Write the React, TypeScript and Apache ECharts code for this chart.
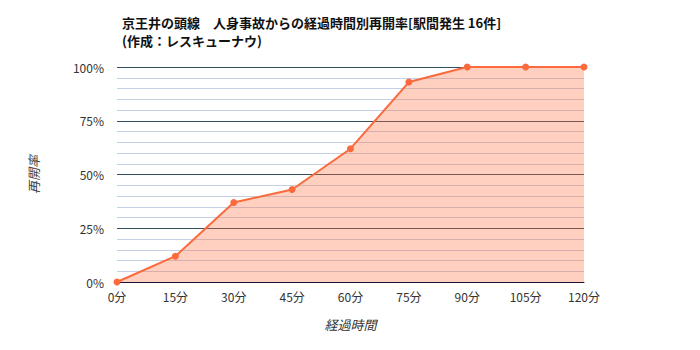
import React, { useEffect, useRef } from "react";
import * as echarts from "echarts";

const titleLines = ["京王井の頭線　人身事故からの経過時間別再開率[駅間発生 16件]", "(作成：レスキューナウ)"];
const categories = ["0分", "15分", "30分", "45分", "60分", "75分", "90分", "105分", "120分"];
const reopenRate = [0, 0.12, 0.37, 0.43, 0.62, 0.93, 1, 1, 1];
const xAxisName = "経過時間";
const yAxisName = "再開率";

export default function App() {
  const ref = useRef<HTMLDivElement>(null);
  useEffect(() => {
    if (!ref.current) return;
    const chart = echarts.init(ref.current, null, { renderer: "svg" });
    chart.setOption({
      animation: false,
      backgroundColor: "#ffffff",
      textStyle: { fontFamily: "'Noto Sans CJK JP', 'Noto Sans', sans-serif" },
      title: {
        text: titleLines.join("\n"),
        left: 109,
        top: 0,
        textStyle: { fontSize: 13, fontWeight: "bold", color: "#111", lineHeight: 18 },
      },
      grid: { left: 109, right: 108, top: 59, bottom: 60 },
      xAxis: {
        type: "category",
        data: categories,
        boundaryGap: false,
        name: xAxisName,
        nameLocation: "middle",
        nameGap: 36,
        nameTextStyle: { fontStyle: "italic", color: "#333", fontSize: 13 },
        axisLine: { lineStyle: { color: "#1c1035", width: 1 } },
        axisTick: { show: false },
        axisLabel: { color: "#333", fontSize: 12, margin: 8 },
        splitLine: { show: false },
      },
      yAxis: {
        type: "value",
        min: 0,
        max: 1,
        interval: 0.25,
        name: yAxisName,
        nameLocation: "middle",
        nameGap: 77,
        nameTextStyle: { fontStyle: "italic", color: "#444", fontSize: 13 },
        axisLine: { show: false },
        axisTick: { show: false },
        axisLabel: {
          color: "#333",
          fontSize: 12,
          margin: 13,
          formatter: (v: number) => Math.round(v * 100) + "%",
        },
        splitLine: { lineStyle: { color: "#33505f", width: 1 } },
        minorTick: { show: false, splitNumber: 5 },
        minorSplitLine: { show: true, lineStyle: { color: "#c3d0e6", width: 1 } },
      },
      series: [
        {
          type: "line",
          data: reopenRate,
          symbol: "circle",
          symbolSize: 7,
          lineStyle: { color: "#fa6a3c", width: 2 },
          itemStyle: { color: "#fa6a3c" },
          areaStyle: { color: "#ff6e40", opacity: 0.33 },
          z: 3,
        },
      ],
    });
    return () => chart.dispose();
  }, []);
  return <div ref={ref} style={{ width: 684, height: 334 }} />;
}
